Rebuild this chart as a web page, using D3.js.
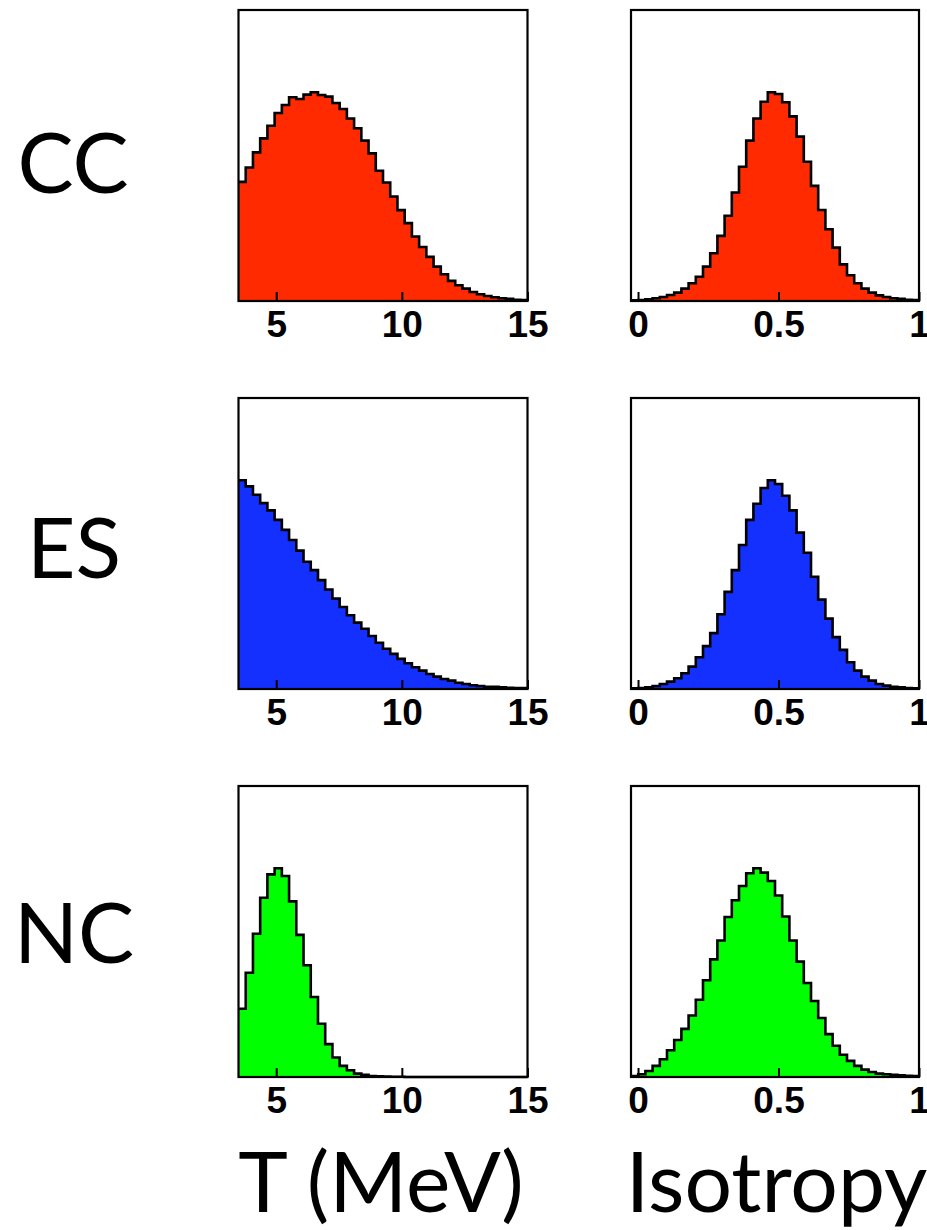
<!DOCTYPE html>
<html>
<head>
<meta charset="utf-8">
<script src="https://cdn.jsdelivr.net/npm/d3@7"></script>
<style>
  html, body { margin: 0; padding: 0; background: #ffffff; }
  svg { display: block; }
</style>
</head>
<body>
<div id="chart"></div>
<script>
// ---------------- data ----------------
const rowLabels = ["CC", "ES", "NC"];
const axisTitles = ["T (MeV)", "Isotropy"];
const tRange = [3.5, 15];
const isoRange = [-0.025, 1];
const tTicks = [5, 10, 15];
const isoTicks = [0, 0.5, 1];
const tTickLabels = ["5", "10", "15"];
const isoTickLabels = ["0", "0.5", "1"];
const rowColors = ["#ff2a00", "#1430ff", "#00ff00"];

// 40 bins per histogram, normalised to peak = 1
const ccT = [0.569,0.638,0.710,0.777,0.837,0.898,0.936,0.973,0.965,0.986,
             0.997,0.984,0.976,0.946,0.917,0.872,0.825,0.766,0.705,0.622,
             0.566,0.499,0.434,0.372,0.308,0.258,0.211,0.164,0.128,0.096,
             0.075,0.059,0.043,0.032,0.024,0.018,0.013,0.010,0.006,0.005];
const ccIso = [0.003,0.005,0.008,0.013,0.019,0.029,0.040,0.059,0.085,0.116,
               0.164,0.228,0.311,0.407,0.518,0.641,0.766,0.872,0.952,0.997,
               0.989,0.949,0.882,0.785,0.665,0.550,0.435,0.343,0.255,0.175,
               0.123,0.085,0.059,0.040,0.027,0.019,0.013,0.010,0.006,0.005];
const esT = [0.997,0.968,0.928,0.888,0.853,0.808,0.760,0.712,0.661,0.608,
             0.568,0.520,0.475,0.432,0.392,0.352,0.317,0.288,0.253,0.221,
             0.192,0.168,0.144,0.123,0.104,0.088,0.072,0.059,0.048,0.040,
             0.030,0.024,0.018,0.014,0.011,0.010,0.008,0.006,0.005,0.004];
const esIso = [0.003,0.005,0.008,0.014,0.024,0.035,0.051,0.075,0.107,0.152,
               0.205,0.267,0.357,0.464,0.568,0.688,0.808,0.885,0.960,0.997,
               0.979,0.923,0.853,0.747,0.651,0.536,0.427,0.336,0.248,0.187,
               0.128,0.088,0.059,0.040,0.024,0.016,0.011,0.008,0.005,0.003];
const ncT = [0.326,0.498,0.684,0.856,0.968,0.997,0.960,0.839,0.679,0.534,
             0.382,0.254,0.157,0.093,0.053,0.032,0.016,0.010,0.005,0.003,
             0.002,0.001,0.001,0.000,0.000,0.000,0.000,0.000,0.000,0.000,
             0.000,0.000,0.000,0.000,0.000,0.000,0.000,0.000,0.000,0.000];
const ncIso = [0.005,0.013,0.029,0.053,0.085,0.128,0.177,0.230,0.294,0.369,
               0.462,0.562,0.652,0.764,0.844,0.912,0.973,0.997,0.976,0.936,
               0.867,0.767,0.652,0.551,0.449,0.363,0.282,0.205,0.149,0.106,
               0.077,0.053,0.035,0.024,0.016,0.013,0.010,0.008,0.006,0.005];

const histT = [ccT, esT, ncT];
const histIso = [ccIso, esIso, ncIso];

// ---------------- layout ----------------
const W = 927, H = 1230;
const colX = [[238.5, 527.5], [631, 919]];
const rowTop = [10, 398, 786];
const panelH = 291;
const yMax = 1.39;

const svg = d3.select("#chart").append("svg")
  .attr("width", W).attr("height", H)
  .attr("viewBox", `0 0 ${W} ${H}`);

svg.append("rect").attr("width", W).attr("height", H).attr("fill", "#fff");

function drawPanel(values, domain, ticks, tickLabels, col, row, color) {
  const x = d3.scaleLinear().domain(domain).range(colX[col]);
  const y = d3.scaleLinear().domain([0, yMax]).range([rowTop[row] + panelH, rowTop[row]]);
  const n = values.length;
  const bw = (domain[1] - domain[0]) / n;
  const pts = values.map((v, i) => ({ x: domain[0] + i * bw, v }));
  pts.push({ x: domain[1], v: values[n - 1] });

  const g = svg.append("g");

  const area = d3.area()
    .x(d => x(d.x)).y0(y(0)).y1(d => y(d.v))
    .curve(d3.curveStepAfter);
  g.append("path").datum(pts)
    .attr("d", area)
    .attr("fill", color);

  const line = d3.line()
    .x(d => x(d.x)).y(d => y(d.v))
    .curve(d3.curveStepAfter);
  g.append("path").datum(pts)
    .attr("d", line)
    .attr("fill", "none")
    .attr("stroke", "#000")
    .attr("stroke-width", 2.6)
    .attr("stroke-linejoin", "miter");

  // frame
  g.append("rect")
    .attr("x", colX[col][0]).attr("y", rowTop[row])
    .attr("width", colX[col][1] - colX[col][0]).attr("height", panelH)
    .attr("fill", "none").attr("stroke", "#000").attr("stroke-width", 2.2);

  // axis
  const axis = d3.axisBottom(x)
    .tickValues(ticks)
    .tickFormat((d, i) => tickLabels[i])
    .tickSizeInner(-9).tickSizeOuter(0).tickPadding(10);
  const ag = g.append("g")
    .attr("transform", `translate(0,${rowTop[row] + panelH})`)
    .call(axis);
  ag.select(".domain").remove();
  ag.selectAll(".tick line").attr("stroke", "#000").attr("stroke-width", 2);
  ag.selectAll(".tick text")
    .attr("fill", "#000")
    .style("font-family", "'Liberation Sans', Arial, sans-serif")
    .style("font-weight", "bold")
    .style("font-size", "37px");
}

for (let r = 0; r < 3; r++) {
  drawPanel(histT[r], tRange, tTicks, tTickLabels, 0, r, rowColors[r]);
  drawPanel(histIso[r], isoRange, isoTicks, isoTickLabels, 1, r, rowColors[r]);
}

// row labels
const rowLabelX = [73, 74, 74];
const rowLabelBase = [193, 578, 963];
rowLabels.forEach((t, i) => {
  svg.append("text")
    .attr("x", rowLabelX[i]).attr("y", rowLabelBase[i])
    .attr("text-anchor", "middle")
    .style("font-family", "Lato, 'Open Sans', sans-serif")
    .style("font-size", "84px")
    .attr("fill", "#000")
    .text(t);
});

// axis titles
const titleX = [381, 776.5];
axisTitles.forEach((t, i) => {
  svg.append("text")
    .attr("x", titleX[i]).attr("y", 1212)
    .attr("text-anchor", "middle")
    .style("font-family", "Lato, 'Open Sans', sans-serif")
    .style("font-size", "84px")
    .attr("fill", "#000")
    .text(t);
});
</script>
</body>
</html>
